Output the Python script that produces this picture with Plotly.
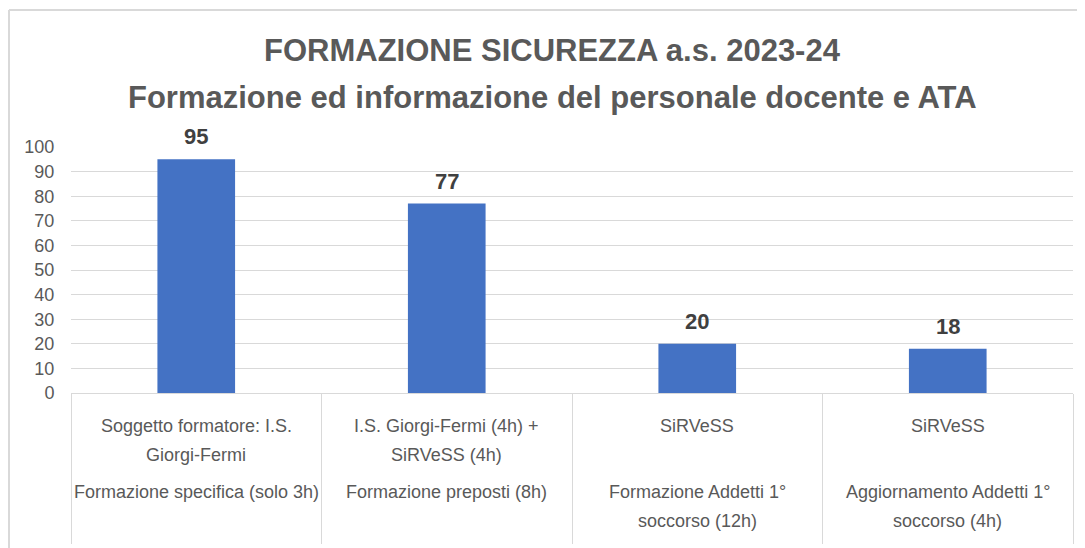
import plotly.graph_objects as go

# data
categories = [
    "Formazione specifica (solo 3h)",
    "Formazione preposti (8h)",
    "Formazione Addetti 1°<br>soccorso (12h)",
    "Aggiornamento Addetti 1°<br>soccorso (4h)",
]
providers = [
    "Soggetto formatore: I.S.<br>Giorgi-Fermi",
    "I.S. Giorgi-Fermi (4h) +<br>SiRVeSS (4h)",
    "SiRVeSS",
    "SiRVeSS",
]
values = [95, 77, 20, 18]
y_ticks = list(range(0, 101, 10))

title_lines = [
    "FORMAZIONE SICUREZZA a.s. 2023-24",
    "Formazione ed informazione del personale docente e ATA",
]

FONT = "Liberation Sans, Arial, sans-serif"
GREY = "#595959"
LINE = "#d9d9d9"

# the page body adds an 8px offset, so the figure is 8px smaller than the window
W, H = 1077, 540
L, R, T, B = 63, 12, 139, 155
plot_w, plot_h = W - L - R, H - T - B

fig = go.Figure()

fig.add_trace(go.Bar(
    x=categories,
    y=values,
    marker=dict(color="#4472C4", line=dict(width=0)),
    width=0.31,
    hoverinfo="skip",
))

fig.update_layout(
    width=W,
    height=H,
    margin=dict(l=L, r=R, t=T, b=B),
    paper_bgcolor="white",
    plot_bgcolor="white",
    showlegend=False,
    xaxis=dict(
        type="category",
        automargin=False,
        showticklabels=False,
        showline=True,
        linecolor=LINE,
        linewidth=1,
        ticks="outside",
        tickson="boundaries",
        ticklen=150,
        tickcolor=LINE,
        tickwidth=1,
        showgrid=False,
        range=[-0.5, 3.5],
    ),
    yaxis=dict(
        automargin=False,
        range=[0, 100],
        tickvals=y_ticks,
        showgrid=True,
        gridcolor=LINE,
        gridwidth=1,
        zeroline=False,
        showline=False,
        ticks="outside",
        ticklen=12,
        tickcolor="rgba(0,0,0,0)",
        tickfont=dict(family=FONT, size=18, color=GREY),
    ),
)

# title, two centred lines
for i, line in enumerate(title_lines):
    fig.add_annotation(
        xref="paper", yref="paper", x=0.481, y=1,
        yanchor="middle", yshift=97 - 47 * i,
        text=line, showarrow=False,
        font=dict(family=FONT, size=31, color=GREY, weight="bold"),
    )

# value labels
for c, v in zip(categories, values):
    fig.add_annotation(
        x=c, y=v, yanchor="bottom", yshift=8,
        text=str(v), showarrow=False,
        font=dict(family=FONT, size=22, color="#404040", weight="bold"),
    )

# two-level category labels, one annotation per text line
label_font = dict(family=FONT, size=18, color=GREY)
for c, p in zip(categories, providers):
    for block, start in ((p, 33), (c, 99)):
        for j, part in enumerate(block.split("<br>")):
            fig.add_annotation(
                x=c, xref="x", yref="paper", y=0,
                yanchor="middle", yshift=-(start + 29 * j),
                text=part, showarrow=False, font=label_font,
            )

# outer chart frame (top and left edges)
fx = -(L - 1) / plot_w
fy = 1 + (T - 2) / plot_h
fig.add_shape(type="line", xref="paper", yref="paper",
              x0=fx, x1=1.05, y0=fy, y1=fy,
              line=dict(color=LINE, width=2))
fig.add_shape(type="line", xref="paper", yref="paper",
              x0=fx, x1=fx, y0=fy, y1=-0.7,
              line=dict(color=LINE, width=2))

fig.write_html("out.html")
